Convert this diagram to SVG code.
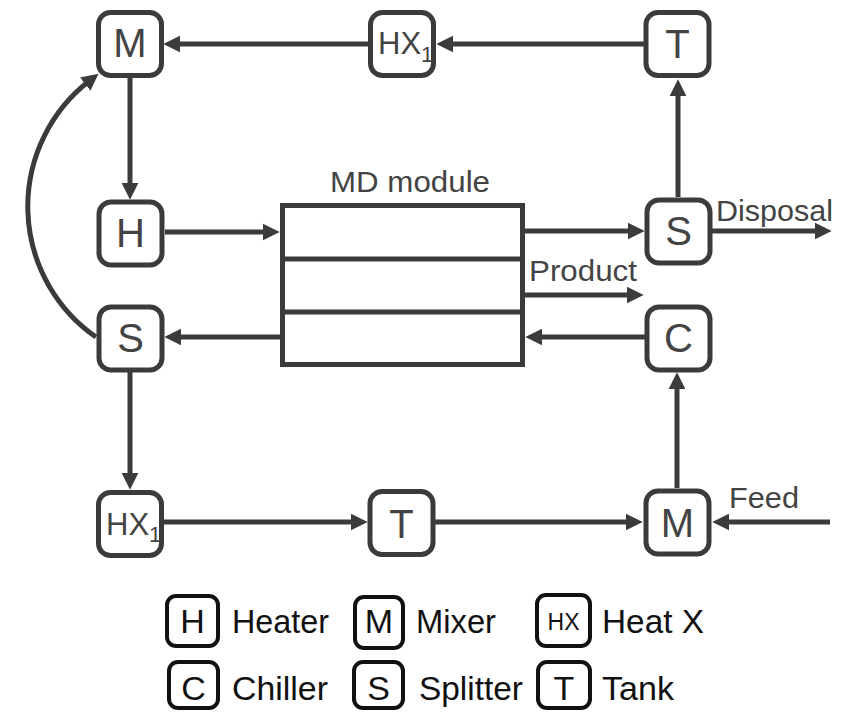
<svg xmlns="http://www.w3.org/2000/svg" width="854" height="712" viewBox="0 0 854 712">
<defs>
<style>
.node rect{fill:#fff;stroke:#3b3b3b;stroke-width:5}
.node text{font-family:"Liberation Sans",Arial,sans-serif;fill:#434343;text-anchor:middle}
.big{font-size:40px}
.lbl{font-family:"Liberation Sans",Arial,sans-serif;font-size:30px;fill:#434343}
#connectors path,#connectors line{fill:none;stroke:#3b3b3b;stroke-width:5;marker-end:url(#arr)}
.leg rect{fill:#fff;stroke:#111;stroke-width:4}
.leg text{font-family:"Liberation Sans",Arial,sans-serif;fill:#111}
.lk{font-size:34px;text-anchor:middle}
.lt{font-size:33px}
</style>
<marker id="arr" markerUnits="userSpaceOnUse" markerWidth="18" markerHeight="18" refX="4" refY="8" orient="auto" viewBox="0 0 17 16">
<path d="M0,0 L16,8 L0,16 z" fill="#3b3b3b"/>
</marker>
</defs>
<rect width="854" height="712" fill="#fff"/>

<g id="connectors">
<line x1="644" y1="44" x2="449" y2="44"/>
<line x1="369" y1="44" x2="176" y2="44"/>
<line x1="130" y1="78" x2="130" y2="187"/>
<line x1="165" y1="232" x2="267" y2="232"/>
<line x1="525" y1="231" x2="632" y2="231"/>
<line x1="678" y1="197" x2="678" y2="92"/>
<line x1="712" y1="231" x2="819" y2="231"/>
<line x1="525" y1="295" x2="631" y2="295"/>
<line x1="645" y1="337" x2="538" y2="337"/>
<line x1="280" y1="337" x2="177" y2="337"/>
<path d="M96 337 A159 159 0 0 1 88.5 81.5"/>
<line x1="130" y1="372" x2="130" y2="477"/>
<line x1="163" y1="522" x2="355" y2="522"/>
<line x1="435" y1="522" x2="630" y2="522"/>
<line x1="677" y1="488" x2="677" y2="385"/>
<line x1="830" y1="522" x2="725" y2="522"/>
</g>

<g id="md-module">
<rect x="282.5" y="205.5" width="240" height="159" fill="#fff" stroke="#3b3b3b" stroke-width="5"/>
<line x1="282.5" y1="259" x2="522.5" y2="259" stroke="#3b3b3b" stroke-width="5"/>
<line x1="282.5" y1="312" x2="522.5" y2="312" stroke="#3b3b3b" stroke-width="5"/>
<text class="lbl" x="330" y="192" textLength="160" lengthAdjust="spacingAndGlyphs">MD module</text>
</g>

<g id="m-top" class="node"><rect x="98.5" y="12.5" width="63" height="63" rx="12"/><text class="big" x="130" y="57">M</text></g>
<g id="hx1-top" class="node"><rect x="370.5" y="12.5" width="63" height="63" rx="12"/><text x="378" y="54" font-size="31" style="text-anchor:start">HX<tspan font-size="22" dy="8">1</tspan></text></g>
<g id="t-top" class="node"><rect x="646" y="12.5" width="63" height="63" rx="12"/><text class="big" x="677.5" y="58">T</text></g>
<g id="h" class="node"><rect x="99" y="202" width="63" height="63" rx="12"/><text class="big" x="130.5" y="247">H</text></g>
<g id="s-right" class="node"><rect x="647" y="200" width="63" height="63" rx="12"/><text class="big" x="678.5" y="245">S</text></g>
<g id="s-left" class="node"><rect x="99" y="307" width="63" height="63" rx="12"/><text class="big" x="130.5" y="352">S</text></g>
<g id="c" class="node"><rect x="647" y="307" width="63" height="63" rx="12"/><text class="big" x="678.5" y="352">C</text></g>
<g id="hx1-bot" class="node"><rect x="98.5" y="492.5" width="63" height="63" rx="12"/><text x="106" y="535" font-size="31" style="text-anchor:start">HX<tspan font-size="22" dy="7">1</tspan></text></g>
<g id="t-bot" class="node"><rect x="370" y="491.5" width="63" height="63" rx="12"/><text class="big" x="401.5" y="538">T</text></g>
<g id="m-bot" class="node"><rect x="646" y="491" width="63" height="63" rx="12"/><text class="big" x="677.5" y="537">M</text></g>

<g id="labels">
<text class="lbl" x="716" y="221" textLength="117" lengthAdjust="spacingAndGlyphs">Disposal</text>
<text class="lbl" x="529" y="281" textLength="108" lengthAdjust="spacingAndGlyphs">Product</text>
<text class="lbl" x="729" y="508" textLength="70" lengthAdjust="spacingAndGlyphs">Feed</text>
</g>

<g id="legend" class="leg">
<g id="leg-h"><rect x="167" y="596" width="51" height="50" rx="9"/><text class="lk" x="192.5" y="633">H</text><text class="lt" x="232" y="633" textLength="97" lengthAdjust="spacingAndGlyphs">Heater</text></g>
<g id="leg-m"><rect x="355" y="597" width="48" height="51" rx="9"/><text class="lk" x="379" y="633">M</text><text class="lt" x="416" y="633" textLength="80" lengthAdjust="spacingAndGlyphs">Mixer</text></g>
<g id="leg-hx"><rect x="537" y="595" width="53" height="51" rx="9"/><text x="563.5" y="630" font-size="23" text-anchor="middle">HX</text><text class="lt" x="602" y="633" textLength="102" lengthAdjust="spacingAndGlyphs">Heat X</text></g>
<g id="leg-c"><rect x="169" y="662" width="49" height="46" rx="9"/><text class="lk" x="193.5" y="700">C</text><text class="lt" x="232" y="700" textLength="96" lengthAdjust="spacingAndGlyphs">Chiller</text></g>
<g id="leg-s"><rect x="354" y="662" width="49" height="46" rx="9"/><text class="lk" x="378.5" y="700">S</text><text class="lt" x="419" y="700" textLength="104" lengthAdjust="spacingAndGlyphs">Splitter</text></g>
<g id="leg-t"><rect x="538" y="662" width="52" height="46" rx="9"/><text class="lk" x="564" y="700">T</text><text class="lt" x="602" y="700" textLength="72" lengthAdjust="spacingAndGlyphs">Tank</text></g>
</g>
</svg>
